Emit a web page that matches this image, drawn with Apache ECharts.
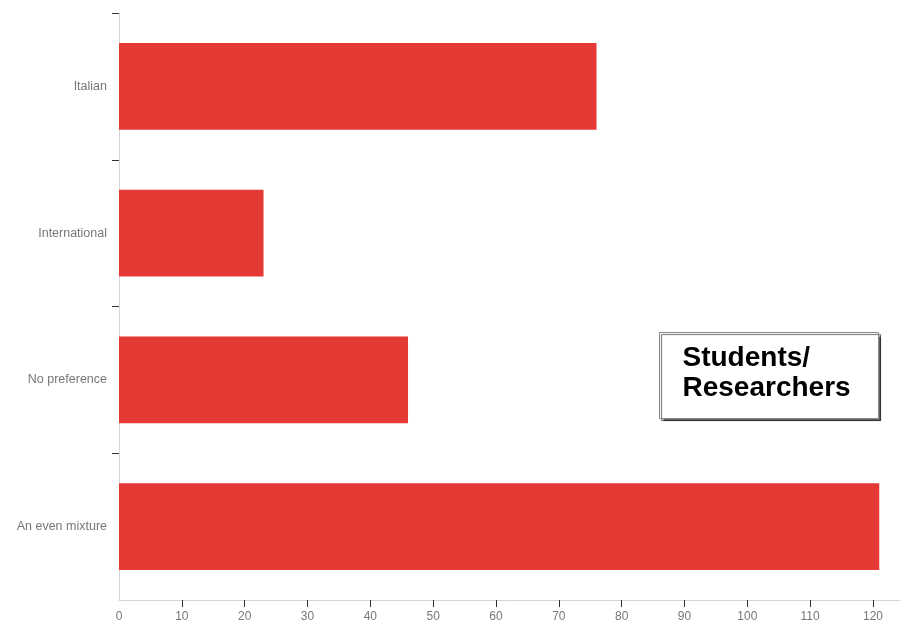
<!DOCTYPE html>
<html>
<head>
<meta charset="utf-8">
<script src="https://cdn.jsdelivr.net/npm/echarts@6/dist/echarts.min.js"></script>
<style>html,body{margin:0;padding:0;background:#fff}#c{width:901px;height:626px}</style>
</head>
<body>
<div id="c"></div>
<script>
// bottom-to-top order
const categories = ['An even mixture', 'No preference', 'International', 'Italian'];
const values = [121, 46, 23, 76];
const xLabelValues = [0, 10, 20, 30, 40, 50, 60, 70, 80, 90, 100, 110, 120];
const xTickValues = [10, 20, 30, 40, 50, 60, 70, 80, 90, 100, 110, 120];
const boxText = 'Students/\nResearchers';

const chart = echarts.init(document.getElementById('c'));
chart.setOption({
  animation: false,
  grid: { left: 119, right: 1, top: 13, bottom: 26, containLabel: false },
  xAxis: {
    type: 'value', min: 0, max: 124.3,
    axisLine: { show: true, lineStyle: { color: '#d4d4d4', width: 1 } },
    axisTick: { show: true, length: 7, customValues: xTickValues, lineStyle: { color: '#333', width: 1 } },
    axisLabel: { customValues: xLabelValues, margin: 11, color: '#777', fontSize: 12, fontFamily: 'Liberation Sans' },
    splitLine: { show: false }
  },
  yAxis: {
    type: 'category', data: categories,
    axisLine: { show: true, lineStyle: { color: '#d4d4d4', width: 1 } },
    axisTick: { show: true, length: 7, interval: function (i) { return i !== 0; }, lineStyle: { color: '#333', width: 1 } },
    axisLabel: { margin: 12, color: '#777', fontSize: 12.5, fontFamily: 'Liberation Sans' }
  },
  series: [{
    type: 'bar', data: values, barWidth: '59%',
    itemStyle: { color: '#e53935' }
  }],
  graphic: [{
    type: 'group', left: 659, top: 332,
    children: [{
      type: 'rect', shape: { x: 0, y: 0, width: 219, height: 86 },
      style: { fill: '#fff', stroke: '#8a8a8a', lineWidth: 1, shadowColor: 'rgba(0,0,0,0.6)', shadowBlur: 1, shadowOffsetX: 2, shadowOffsetY: 2 }
    }, {
      type: 'text', x: 23, y: 11,
      style: { text: boxText, fill: '#000', font: 'bold 28px "Liberation Sans"', lineHeight: 30, verticalAlign: 'top', align: 'left' }
    }]
  }]
});
</script>
</body>
</html>
